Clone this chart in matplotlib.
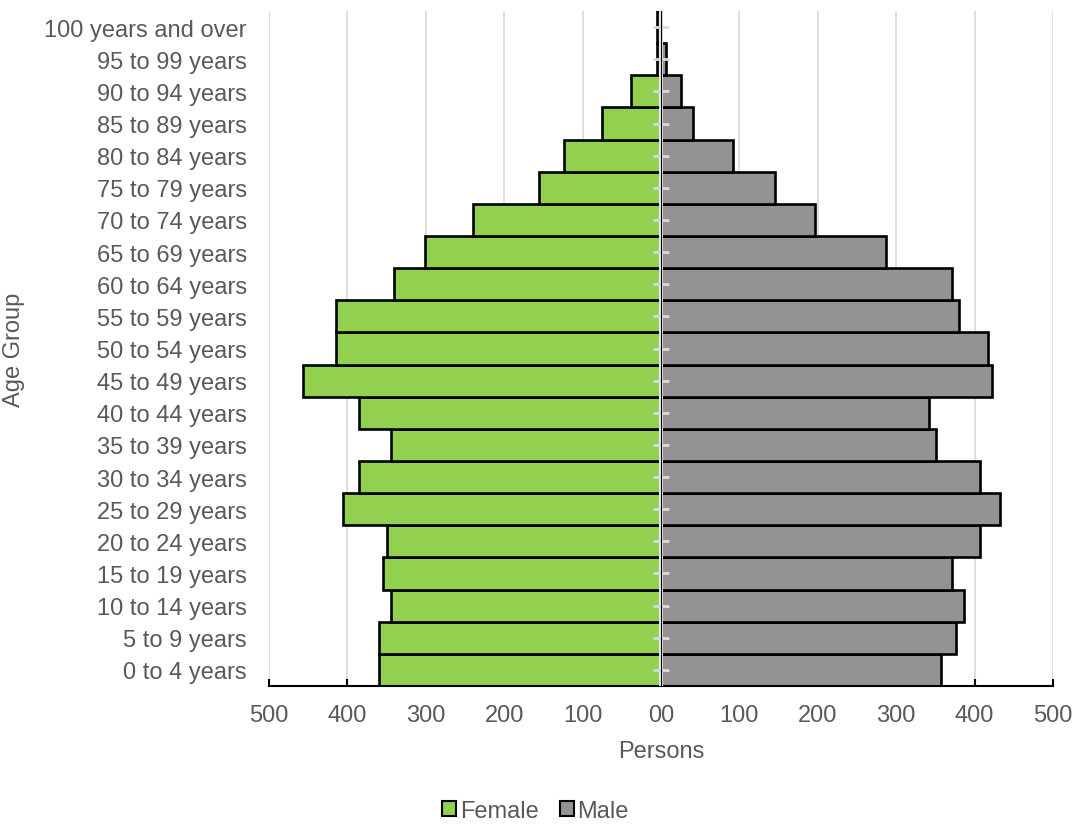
import numpy as np
import matplotlib
matplotlib.use('Agg')
from matplotlib import pyplot as plt
from matplotlib.patches import Patch

plt.rcParams['font.family'] = ['Liberation Sans', 'DejaVu Sans']

age_groups = ['0 to 4 years', '5 to 9 years', '10 to 14 years', '15 to 19 years',
              '20 to 24 years', '25 to 29 years', '30 to 34 years', '35 to 39 years',
              '40 to 44 years', '45 to 49 years', '50 to 54 years', '55 to 59 years',
              '60 to 64 years', '65 to 69 years', '70 to 74 years', '75 to 79 years',
              '80 to 84 years', '85 to 89 years', '90 to 94 years', '95 to 99 years',
              '100 years and over']
female = [360, 360, 344, 355, 350, 406, 385, 344, 385, 457, 415, 415,
          341, 301, 240, 155, 124, 75, 38, 5, 5]
male = [357, 376, 386, 371, 407, 432, 407, 351, 342, 422, 417, 380,
        371, 287, 196, 145, 92, 41, 26, 6, 0]
x_ticks = [-500, -400, -300, -200, -100, 0, 100, 200, 300, 400, 500]
x_tick_labels = ['500', '400', '300', '200', '100', '00', '100', '200', '300', '400', '500']

text_col = '#595959'
green = '#92d050'
grey = '#939393'

fig = plt.figure(figsize=(10.75, 8.29), dpi=100)
ax = fig.add_axes([0.2502, 0.1713, 0.7293, 0.8142])

y = np.arange(len(age_groups))
ax.barh(y, -np.array(female), height=1.0, color=green, edgecolor='black', linewidth=1.9, zorder=2)
ax.barh(y, male, height=1.0, color=grey, edgecolor='black', linewidth=1.9, zorder=2)

ax.set_xlim(-500, 500)
ax.set_ylim(-0.5, len(age_groups) - 0.5)
ax.set_xticks(x_ticks)
ax.set_xticklabels(x_tick_labels)
ax.set_yticks(y)
ax.set_yticklabels(age_groups)
ax.grid(axis='x', color='#d9d9d9', linewidth=1.2, zorder=0)
ax.set_axisbelow(True)

for s in ['top', 'right', 'left']:
    ax.spines[s].set_visible(False)
ax.spines['bottom'].set_color('black')
ax.spines['bottom'].set_linewidth(1.5)
ax.tick_params(axis='x', direction='in', length=5, width=1.5, color='black',
               labelcolor=text_col, labelsize=17, pad=13)
ax.tick_params(axis='y', length=0, labelcolor=text_col, labelsize=17, pad=16)

# center axis line with category ticks
ax.axvline(0, color='#ececec', linewidth=2.8, zorder=4)
sec = ax.secondary_yaxis(0.5)
sec.set_zorder(5)
sec.set_yticks(y)
sec.set_yticklabels([])
sec.spines['left'].set_visible(False)
sec.tick_params(axis='y', direction='inout', length=11, width=2, color='#d9d9d9')

ax.set_xlabel('Persons', color=text_col, fontsize=17, labelpad=10)
ax.set_ylabel('Age Group', color=text_col, fontsize=17, labelpad=14)

handles = [Patch(facecolor=green, edgecolor='black', linewidth=1.5, label='Female'),
           Patch(facecolor=grey, edgecolor='black', linewidth=1.5, label='Male')]
fig.legend(handles=handles, loc='lower center', bbox_to_anchor=(0.498, -0.018), ncol=2,
           frameon=False, fontsize=17, handlelength=0.6, handleheight=0.6,
           handletextpad=0.15, columnspacing=0.9, labelcolor=text_col)

fig.savefig('out.png', dpi=100)
